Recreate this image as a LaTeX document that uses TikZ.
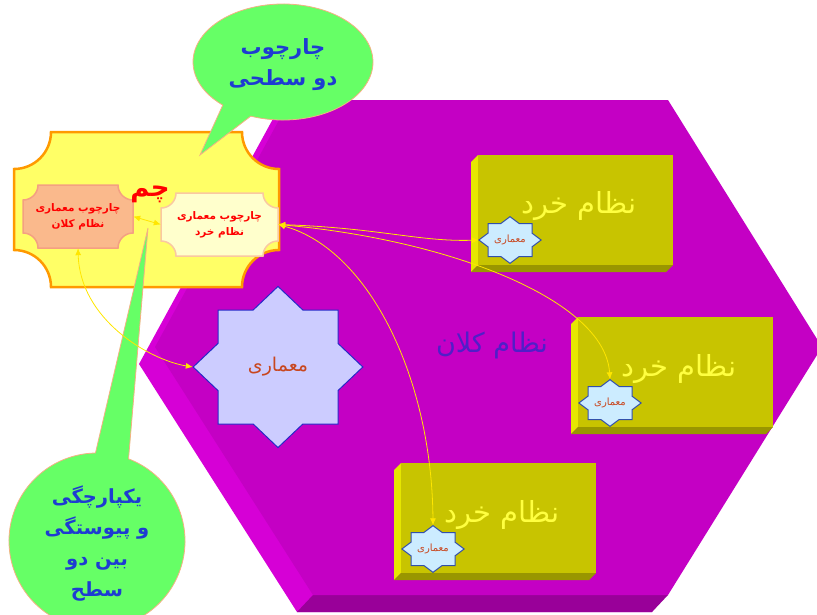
\documentclass[tikz,border=0pt]{standalone}
\usepackage{fontspec}
\usetikzlibrary{calc,shapes.geometric,arrows.meta}
\TeXXeTstate=1
\newfontfamily\arabicfont[Script=Arabic]{DejaVu Sans}
\newcommand\fa[1]{\beginR#1\endR}

\definecolor{hexfront}{RGB}{196,0,196}
\definecolor{hexside}{RGB}{214,0,214}
\definecolor{hexbottom}{RGB}{153,0,153}
\definecolor{boxfront}{RGB}{200,196,0}
\definecolor{boxside}{RGB}{230,230,0}
\definecolor{boxbottom}{RGB}{153,150,0}
\definecolor{bubblefill}{RGB}{102,255,102}
\definecolor{bubbleline}{RGB}{244,177,131}
\definecolor{bubbletext}{RGB}{30,60,210}
\definecolor{ticketfill}{RGB}{255,255,102}
\definecolor{ticketline}{RGB}{255,153,0}
\definecolor{macrofill}{RGB}{250,185,140}
\definecolor{macroline}{RGB}{244,160,130}
\definecolor{microfill}{RGB}{255,255,204}
\definecolor{microline}{RGB}{250,200,160}
\definecolor{startext}{RGB}{200,70,30}
\definecolor{bigstarfill}{RGB}{204,204,255}
\definecolor{bigstarline}{RGB}{40,40,200}
\definecolor{smallstarfill}{RGB}{204,236,255}
\definecolor{smallstarline}{RGB}{50,80,170}
\definecolor{macrotext}{RGB}{80,30,200}
\definecolor{microtext}{RGB}{255,255,64}
\definecolor{linkcol}{RGB}{255,230,0}

\tikzset{
  farsi/.style={align=center, inner sep=0pt},
  hexlabel/.style={farsi, text=macrotext, font=\arabicfont\fontsize{27}{30}\selectfont},
  microlabel/.style={farsi, text=microtext, font=\arabicfont\fontsize{29}{32}\selectfont},
  framelabel/.style={farsi, text=red, font=\arabicfont\bfseries\fontsize{10.5}{16}\selectfont, minimum height=63pt},
  chamlabel/.style={farsi, text=red, font=\arabicfont\bfseries\fontsize{26}{30}\selectfont},
  bubbleshape/.style={fill=bubblefill, draw=bubbleline, line width=0.8pt},
  bubblelabel/.style={farsi, text=bubbletext, font=\arabicfont\bfseries\fontsize{21}{31}\selectfont},
  starnode/.style={diamond, farsi, text=startext},
  bigstarnode/.style={starnode, minimum width=170pt, minimum height=161pt, font=\arabicfont\fontsize{19}{22}\selectfont},
  smallstarnode/.style={starnode, minimum width=62pt, minimum height=47pt, font=\arabicfont\fontsize{10}{12}\selectfont},
  bigstarshape/.style={fill=bigstarfill, draw=bigstarline, line width=1pt},
  smallstarshape/.style={fill=smallstarfill, draw=smallstarline, line width=1pt},
  linkarrow/.style={draw=linkcol, line width=0.8pt, {Latex[length=7pt,width=6pt]}-{Latex[length=7pt,width=6pt]}},
}

\def\ticket[#1](#2,#3)(#4,#5)(#6){\draw[#1] (#2+#6,#3) -- (#4-#6,#3) arc (180:90:#6) -- (#4,#5-#6) arc (270:180:#6) -- (#2+#6,#5) arc (0:-90:#6) -- (#2,#3+#6) arc (90:0:#6) -- cycle;}
\def\octstar[#1](#2,#3)(#4,#5){\draw[#1,shift={(#2,#3)},xscale=#4,yscale=#5] (-1.414,0) -- (-1,-0.414) -- (-1,-1) -- (-0.414,-1) -- (0,-1.414) -- (0.414,-1) -- (1,-1) -- (1,-0.414) -- (1.414,0) -- (1,0.414) -- (1,1) -- (0.414,1) -- (0,1.414) -- (-0.414,1) -- (-1,1) -- (-1,0.414) -- cycle;}
\def\microbox(#1,#2){\fill[boxside] (#1,#2) -- (#1-7,#2+7) -- (#1-7,#2+117) -- (#1,#2+110) -- cycle;
  \fill[boxbottom] (#1,#2+110) -- (#1-7,#2+117) -- (#1+188,#2+117) -- (#1+195,#2+110) -- cycle;
  \fill[boxfront] (#1,#2) rectangle (#1+195,#2+110);}

\begin{document}
\begin{tikzpicture}[x=1pt,y=-1pt]
	%%%%% START %%%%%
	\useasboundingbox (0,0) rectangle (817,614);
	\clip (0,0) rectangle (817,614);
	
	\fill[hexside] (274,117) -- (652,117) -- (806,364) -- (652,612) -- (297,612) -- (139,364) -- cycle;
	\fill[hexbottom] (313,595) -- (668,595) -- (652,612) -- (297,612) -- cycle;
	\fill[hexfront] (290,100) -- (668,100) -- (822,347) -- (668,595) -- (313,595) -- (155,347) -- cycle;
	\node[hexlabel] (macrosys) at (492,345) {\fa{نظام کلان}};
	
	\microbox(478,155)
	\microbox(578,317)
	\microbox(401,463)
	\node[microlabel] (micro1) at (579,206) {\fa{نظام خرد}};
	\node[microlabel] (micro2) at (679,369) {\fa{نظام خرد}};
	\node[microlabel] (micro3) at (502,515) {\fa{نظام خرد}};
	
	\octstar[smallstarshape](510,240)(22,16.5)
	\node[smallstarnode] (star1) at (510,240) {\fa{معماری}};
	\octstar[smallstarshape](610,403)(22,16.5)
	\node[smallstarnode] (star2) at (610,403) {\fa{معماری}};
	\octstar[smallstarshape](433,549)(22,16.5)
	\node[smallstarnode] (star3) at (433,549) {\fa{معماری}};
	
	\octstar[bigstarshape](278,367)(60,57)
	\node[bigstarnode] (bigstar) at (278,367) {\fa{معماری}};
	
	\ticket[fill=ticketfill, draw=ticketline, line width=2.5pt](14,132)(279,287)(37)
	\ticket[fill=macrofill, draw=macroline, line width=1.5pt](23,185)(133,248)(15)
	\ticket[fill=microfill, draw=microline, line width=1.5pt](161,193)(278,256)(15)
	\node[framelabel, minimum width=110pt] (macrofr) at (78,216.5) {\fa{چارچوب معماری}\\\fa{نظام کلان}};
	\node[framelabel, minimum width=117pt] (microfr) at (219.5,224.5) {\fa{چارچوب معماری}\\\fa{نظام خرد}};
	\node[chamlabel] (cham) at (150,194) {\fa{چم}};
	
	\draw[bubbleshape] (283,62) ++(111:90 and 58) arc[start angle=111, end angle=-228, x radius=90, y radius=58] -- (200,155) -- cycle;
	\node[bubblelabel] (levels) at (283,65) {\fa{چارچوب}\\\fa{دو سطحی}};
	
	\draw[bubbleshape] (97,541) ++(-69:88) arc[start angle=-69, end angle=269, radius=88] -- (148,228) -- cycle;
	\node[bubblelabel, font=\arabicfont\bfseries\fontsize{19.5}{31}\selectfont] (unity) at (97,544) {\fa{یکپارچگی}\\\fa{و پیوستگی}\\\fa{بین دو}\\\fa{سطح}};
	
	\draw[linkarrow] (macrofr.east) -- (microfr.west);
	\draw[linkarrow] (microfr.east) .. controls (380,228) and (420,242) .. (star1.west);
	\draw[linkarrow] (microfr.east) .. controls (450,240) and (605,300) .. (star2.north);
	\draw[linkarrow] (microfr.east) .. controls (370,250) and (432,380) .. (star3.north);
	\draw[linkarrow] (macrofr.south) .. controls (80,320) and (150,360) .. (bigstar.west);
	
	%%%%% END %%%%%
\end{tikzpicture}
\end{document}
